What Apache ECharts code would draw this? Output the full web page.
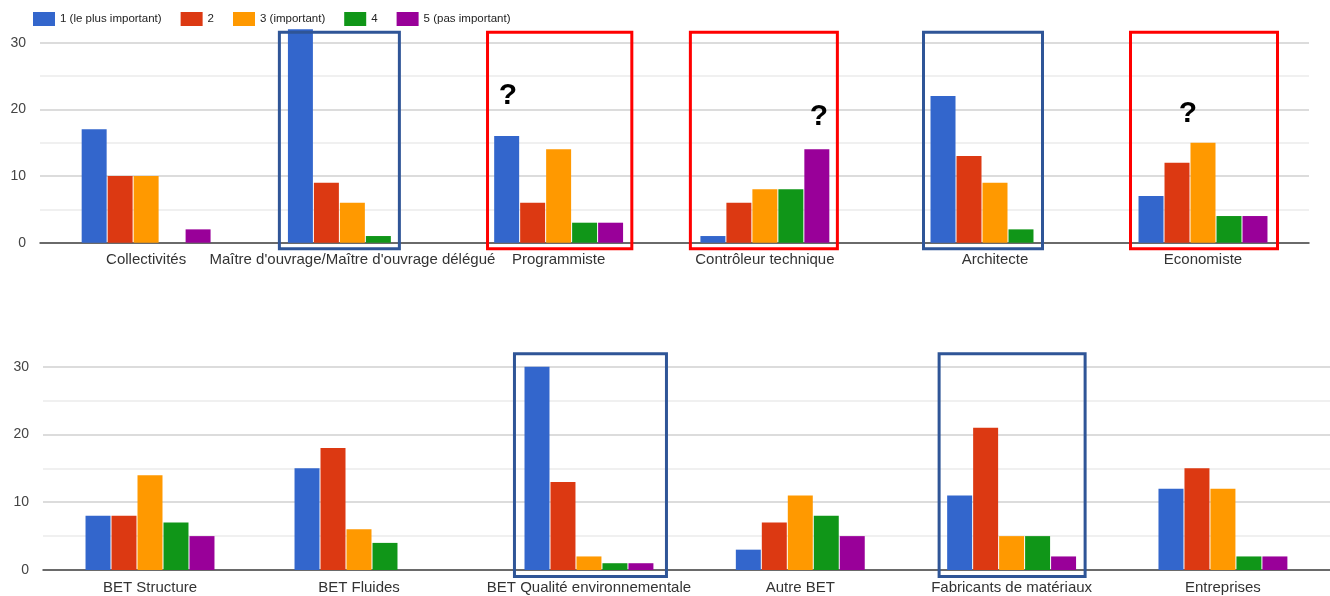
<!DOCTYPE html>
<html>
<head>
<meta charset="utf-8">
<script src="https://cdn.jsdelivr.net/npm/echarts@6/dist/echarts.min.js"></script>
<style>
  html, body { margin: 0; padding: 0; background: #ffffff; }
  #chart { width: 1330px; height: 596px; }
</style>
</head>
<body>
<div id="chart"></div>
<script>
// ---- Data ----
const seriesNames = ['1 (le plus important)', '2', '3 (important)', '4', '5 (pas important)'];
const seriesColors = ['#3366cc', '#dc3912', '#ff9900', '#109618', '#990099'];

const categoriesTop = ['Collectivités', "Maître d'ouvrage/Maître d'ouvrage délégué", 'Programmiste', 'Contrôleur technique', 'Architecte', 'Economiste'];
const rank1Top = [17, 32, 16, 1, 22, 7];
const rank2Top = [10, 9, 6, 6, 13, 12];
const rank3Top = [10, 6, 14, 8, 9, 15];
const rank4Top = [0, 1, 3, 8, 2, 4];
const rank5Top = [2, 0, 3, 14, 0, 4];

const categoriesBottom = ['BET Structure', 'BET Fluides', 'BET Qualité environnementale', 'Autre BET', 'Fabricants de matériaux', 'Entreprises'];
const rank1Bottom = [8, 15, 30, 3, 11, 12];
const rank2Bottom = [8, 18, 13, 7, 21, 15];
const rank3Bottom = [14, 6, 2, 11, 5, 12];
const rank4Bottom = [7, 4, 1, 8, 5, 2];
const rank5Bottom = [5, 0, 1, 5, 2, 2];

const yTicks = [0, 10, 20, 30];

// Annotations: category, panel, box offsets relative to category centre, colour
const boxes = [
  { panel: 0, cat: "Maître d'ouvrage/Maître d'ouvrage délégué", l: -74.5, r: 48.5, color: '#2f5597' },
  { panel: 0, cat: 'Programmiste', l: -72.6, r: 74.7, color: '#ff0000' },
  { panel: 0, cat: 'Contrôleur technique', l: -76, r: 74, color: '#ff0000' },
  { panel: 0, cat: 'Architecte', l: -73, r: 49, color: '#2f5597' },
  { panel: 0, cat: 'Economiste', l: -74, r: 76, color: '#ff0000' },
  { panel: 1, cat: 'BET Qualité environnementale', l: -76, r: 79, color: '#2f5597' },
  { panel: 1, cat: 'Fabricants de matériaux', l: -74, r: 75, color: '#2f5597' }
];
const questionMarks = [
  { panel: 0, cat: 'Programmiste', dx: -50.6, y: 96 },
  { panel: 0, cat: 'Contrôleur technique', dx: 54, y: 117 },
  { panel: 0, cat: 'Economiste', dx: -15, y: 114 }
];

// ---- Layout (the reference is a composite of screenshot pieces) ----
const FONT = '"Liberation Sans", Arial, sans-serif';
// panel: background grid + two data grids covering category slices
const panels = [
  { top: 42.7, height: 200, bg: { left: 40, right: 21 },
    parts: [ { from: 0, to: 4, left: 43, width: 825, gap: '37.5%' },
             { from: 4, to: 6, left: 891, width: 416, gap: '38%' } ],
    cats: categoriesTop, vals: [rank1Top, rank2Top, rank3Top, rank4Top, rank5Top] },
  { top: 366.7, height: 203.3, bg: { left: 43, right: 0 },
    parts: [ { from: 0, to: 2, left: 45.5, width: 418, gap: '38.3%' },
             { from: 2, to: 6, left: 483.3, width: 845.3, gap: '39%' } ],
    cats: categoriesBottom, vals: [rank1Bottom, rank2Bottom, rank3Bottom, rank4Bottom, rank5Bottom] }
];

const grid = [], xAxis = [], yAxis = [], series = [];
const partIndex = []; // [panel][part] -> axis index
panels.forEach((p, pi) => {
  // background grid: gridlines, y labels and baseline
  const bgIdx = grid.length;
  grid.push({ left: p.bg.left, right: p.bg.right, top: p.top, height: p.height });
  xAxis.push({ type: 'value', gridIndex: bgIdx, min: 0, max: 1,
    axisLine: { show: true, onZero: false, lineStyle: { color: '#444', width: 1.5 } },
    axisTick: { show: false }, axisLabel: { show: false }, splitLine: { show: false } });
  yAxis.push({ type: 'value', gridIndex: bgIdx, min: 0, max: 30, interval: 5,
    axisLine: { show: false }, axisTick: { show: false },
    axisLabel: { formatter: v => (yTicks.indexOf(v) >= 0 ? String(v) : ''),
      color: '#444', fontSize: 14, fontFamily: FONT, margin: 14 },
    splitLine: { lineStyle: { color: ['#d0d0d0', '#ebebeb'], width: 1.5 } } });
  partIndex[pi] = [];
  p.parts.forEach(part => {
    const gi = grid.length;
    partIndex[pi].push(gi);
    grid.push({ left: part.left, width: part.width, top: p.top, height: p.height });
    xAxis.push({ type: 'category', gridIndex: gi, data: p.cats.slice(part.from, part.to),
      axisLine: { show: false }, axisTick: { show: false }, splitLine: { show: false },
      axisLabel: { interval: 0, color: '#333', fontSize: 15, fontFamily: FONT, margin: 10 } });
    yAxis.push({ type: 'value', gridIndex: gi, min: 0, max: 30, show: false, splitLine: { show: false } });
    seriesNames.forEach((name, i) => {
      series.push({ name, type: 'bar', xAxisIndex: gi, yAxisIndex: gi,
        data: p.vals[i].slice(part.from, part.to),
        itemStyle: { color: seriesColors[i] }, barGap: '4%', barCategoryGap: part.gap,
        clip: false, animation: false, z: 3 });
    });
  });
});

const chart = echarts.init(document.getElementById('chart'));
chart.setOption({
  animation: false,
  backgroundColor: '#ffffff',
  textStyle: { fontFamily: FONT },
  legend: {
    data: seriesNames, left: 28, top: 7, icon: 'rect',
    itemWidth: 22, itemHeight: 14, itemGap: 19,
    textStyle: { fontSize: 11.5, color: '#222', fontFamily: FONT }
  },
  grid, xAxis, yAxis, series
});

// ---- Annotation graphics positioned from the axes ----
function catPixel(panel, cat) {
  const p = panels[panel];
  const idx = p.cats.indexOf(cat);
  const k = p.parts.findIndex(part => idx >= part.from && idx < part.to);
  const gi = partIndex[panel][k];
  return {
    x: chart.convertToPixel({ xAxisIndex: gi }, cat),
    y0: chart.convertToPixel({ yAxisIndex: gi }, 0),
    y30: chart.convertToPixel({ yAxisIndex: gi }, 30)
  };
}
const graphics = [];
boxes.forEach(b => {
  const c = catPixel(b.panel, b.cat);
  const L = c.x + b.l, R = c.x + b.r;
  const T = c.y30 - (b.panel === 0 ? 12 : 14.5), B = c.y0 + (b.panel === 0 ? 7.5 : 8);
  graphics.push({
    type: 'rect', z: 100, silent: true,
    shape: { x: L + 1.5, y: T + 1.5, width: R - L - 3, height: B - T - 3 },
    style: { fill: 'none', stroke: b.color, lineWidth: 3 }
  });
});
questionMarks.forEach(q => {
  const c = catPixel(q.panel, q.cat);
  graphics.push({
    type: 'text', z: 101, silent: true,
    x: c.x + q.dx, y: q.y,
    style: { text: '?', fill: '#000', fontSize: 30, fontWeight: 'bold', fontFamily: FONT,
             align: 'center', verticalAlign: 'middle' }
  });
});
chart.setOption({ graphic: graphics });
</script>
</body>
</html>
